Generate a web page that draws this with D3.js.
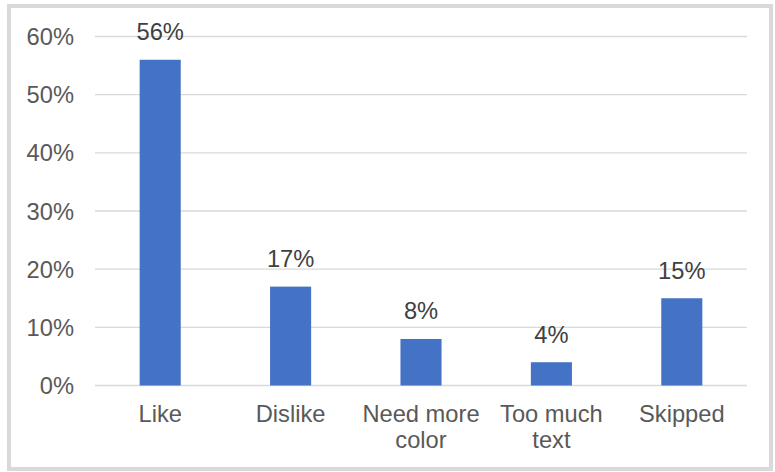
<!DOCTYPE html>
<html>
<head>
<meta charset="utf-8">
<script src="https://cdn.jsdelivr.net/npm/d3@7"></script>
<style>
  html, body { margin: 0; padding: 0; background: #fff; }
  svg { display: block; }
  text { font-family: "Liberation Sans", Arial, sans-serif; }
</style>
</head>
<body>
<svg id="chart" width="775" height="472"></svg>
<script>
// Survey responses
const categories = ["Like", "Dislike", "Need more color", "Too much text", "Skipped"];
const categoryLines = [["Like"], ["Dislike"], ["Need more", "color"], ["Too much", "text"], ["Skipped"]];
const values = [0.56, 0.17, 0.08, 0.04, 0.15];
const yTicks = [0, 0.1, 0.2, 0.3, 0.4, 0.5, 0.6];

const W = 775, H = 472;
const plot = { left: 95, right: 747, top: 36.5, bottom: 385.5 };
const fontSize = 23.7;

const svg = d3.select("#chart");

// outer frame
svg.append("rect")
  .attr("x", 9).attr("y", 6)
  .attr("width", W - 13).attr("height", H - 9)
  .attr("fill", "#fff")
  .attr("stroke", "#d9d9d9")
  .attr("stroke-width", 4);

const x = d3.scaleBand().domain(categories).range([plot.left, plot.right]).padding(0);
const y = d3.scaleLinear().domain([0, 0.6]).range([plot.bottom, plot.top]);
const fmt = d3.format(".0%");

// gridlines
svg.append("g")
  .selectAll("line")
  .data(yTicks)
  .join("line")
  .attr("x1", plot.left).attr("x2", plot.right)
  .attr("y1", d => y(d)).attr("y2", d => y(d))
  .attr("stroke", "#d9d9d9")
  .attr("stroke-width", 1.4);

// y-axis labels
const yAxis = d3.axisLeft(y).tickValues(yTicks).tickFormat(fmt).tickSize(0).tickPadding(0);
const yg = svg.append("g").attr("transform", `translate(74,0)`).call(yAxis);
yg.select(".domain").remove();
yg.selectAll("text")
  .attr("fill", "#595959")
  .attr("font-size", fontSize)
  .attr("font-family", "'Liberation Sans', Arial, sans-serif")
  .attr("dy", "0.34em");

// bars
const barW = x.bandwidth() * 0.315;
svg.append("g")
  .selectAll("rect")
  .data(values)
  .join("rect")
  .attr("x", (d, i) => x(categories[i]) + x.bandwidth() / 2 - barW / 2)
  .attr("y", d => y(d))
  .attr("width", barW)
  .attr("height", d => y(0) - y(d))
  .attr("fill", "#4472C4");

// value labels
svg.append("g")
  .selectAll("text")
  .data(values)
  .join("text")
  .attr("x", (d, i) => x(categories[i]) + x.bandwidth() / 2)
  .attr("y", d => y(d) - 19.5)
  .attr("text-anchor", "middle")
  .attr("fill", "#404040")
  .attr("font-size", fontSize)
  .text(d => fmt(d));

// category labels
const xl = svg.append("g")
  .selectAll("text")
  .data(categoryLines)
  .join("text")
  .attr("x", (d, i) => x(categories[i]) + x.bandwidth() / 2)
  .attr("y", 421.5)
  .attr("text-anchor", "middle")
  .attr("fill", "#595959")
  .attr("font-size", fontSize);
xl.selectAll("tspan")
  .data(d => d)
  .join("tspan")
  .attr("x", function () { return d3.select(this.parentNode).attr("x"); })
  .attr("dy", (d, i) => i === 0 ? 0 : 26.5)
  .text(d => d);
</script>
</body>
</html>
